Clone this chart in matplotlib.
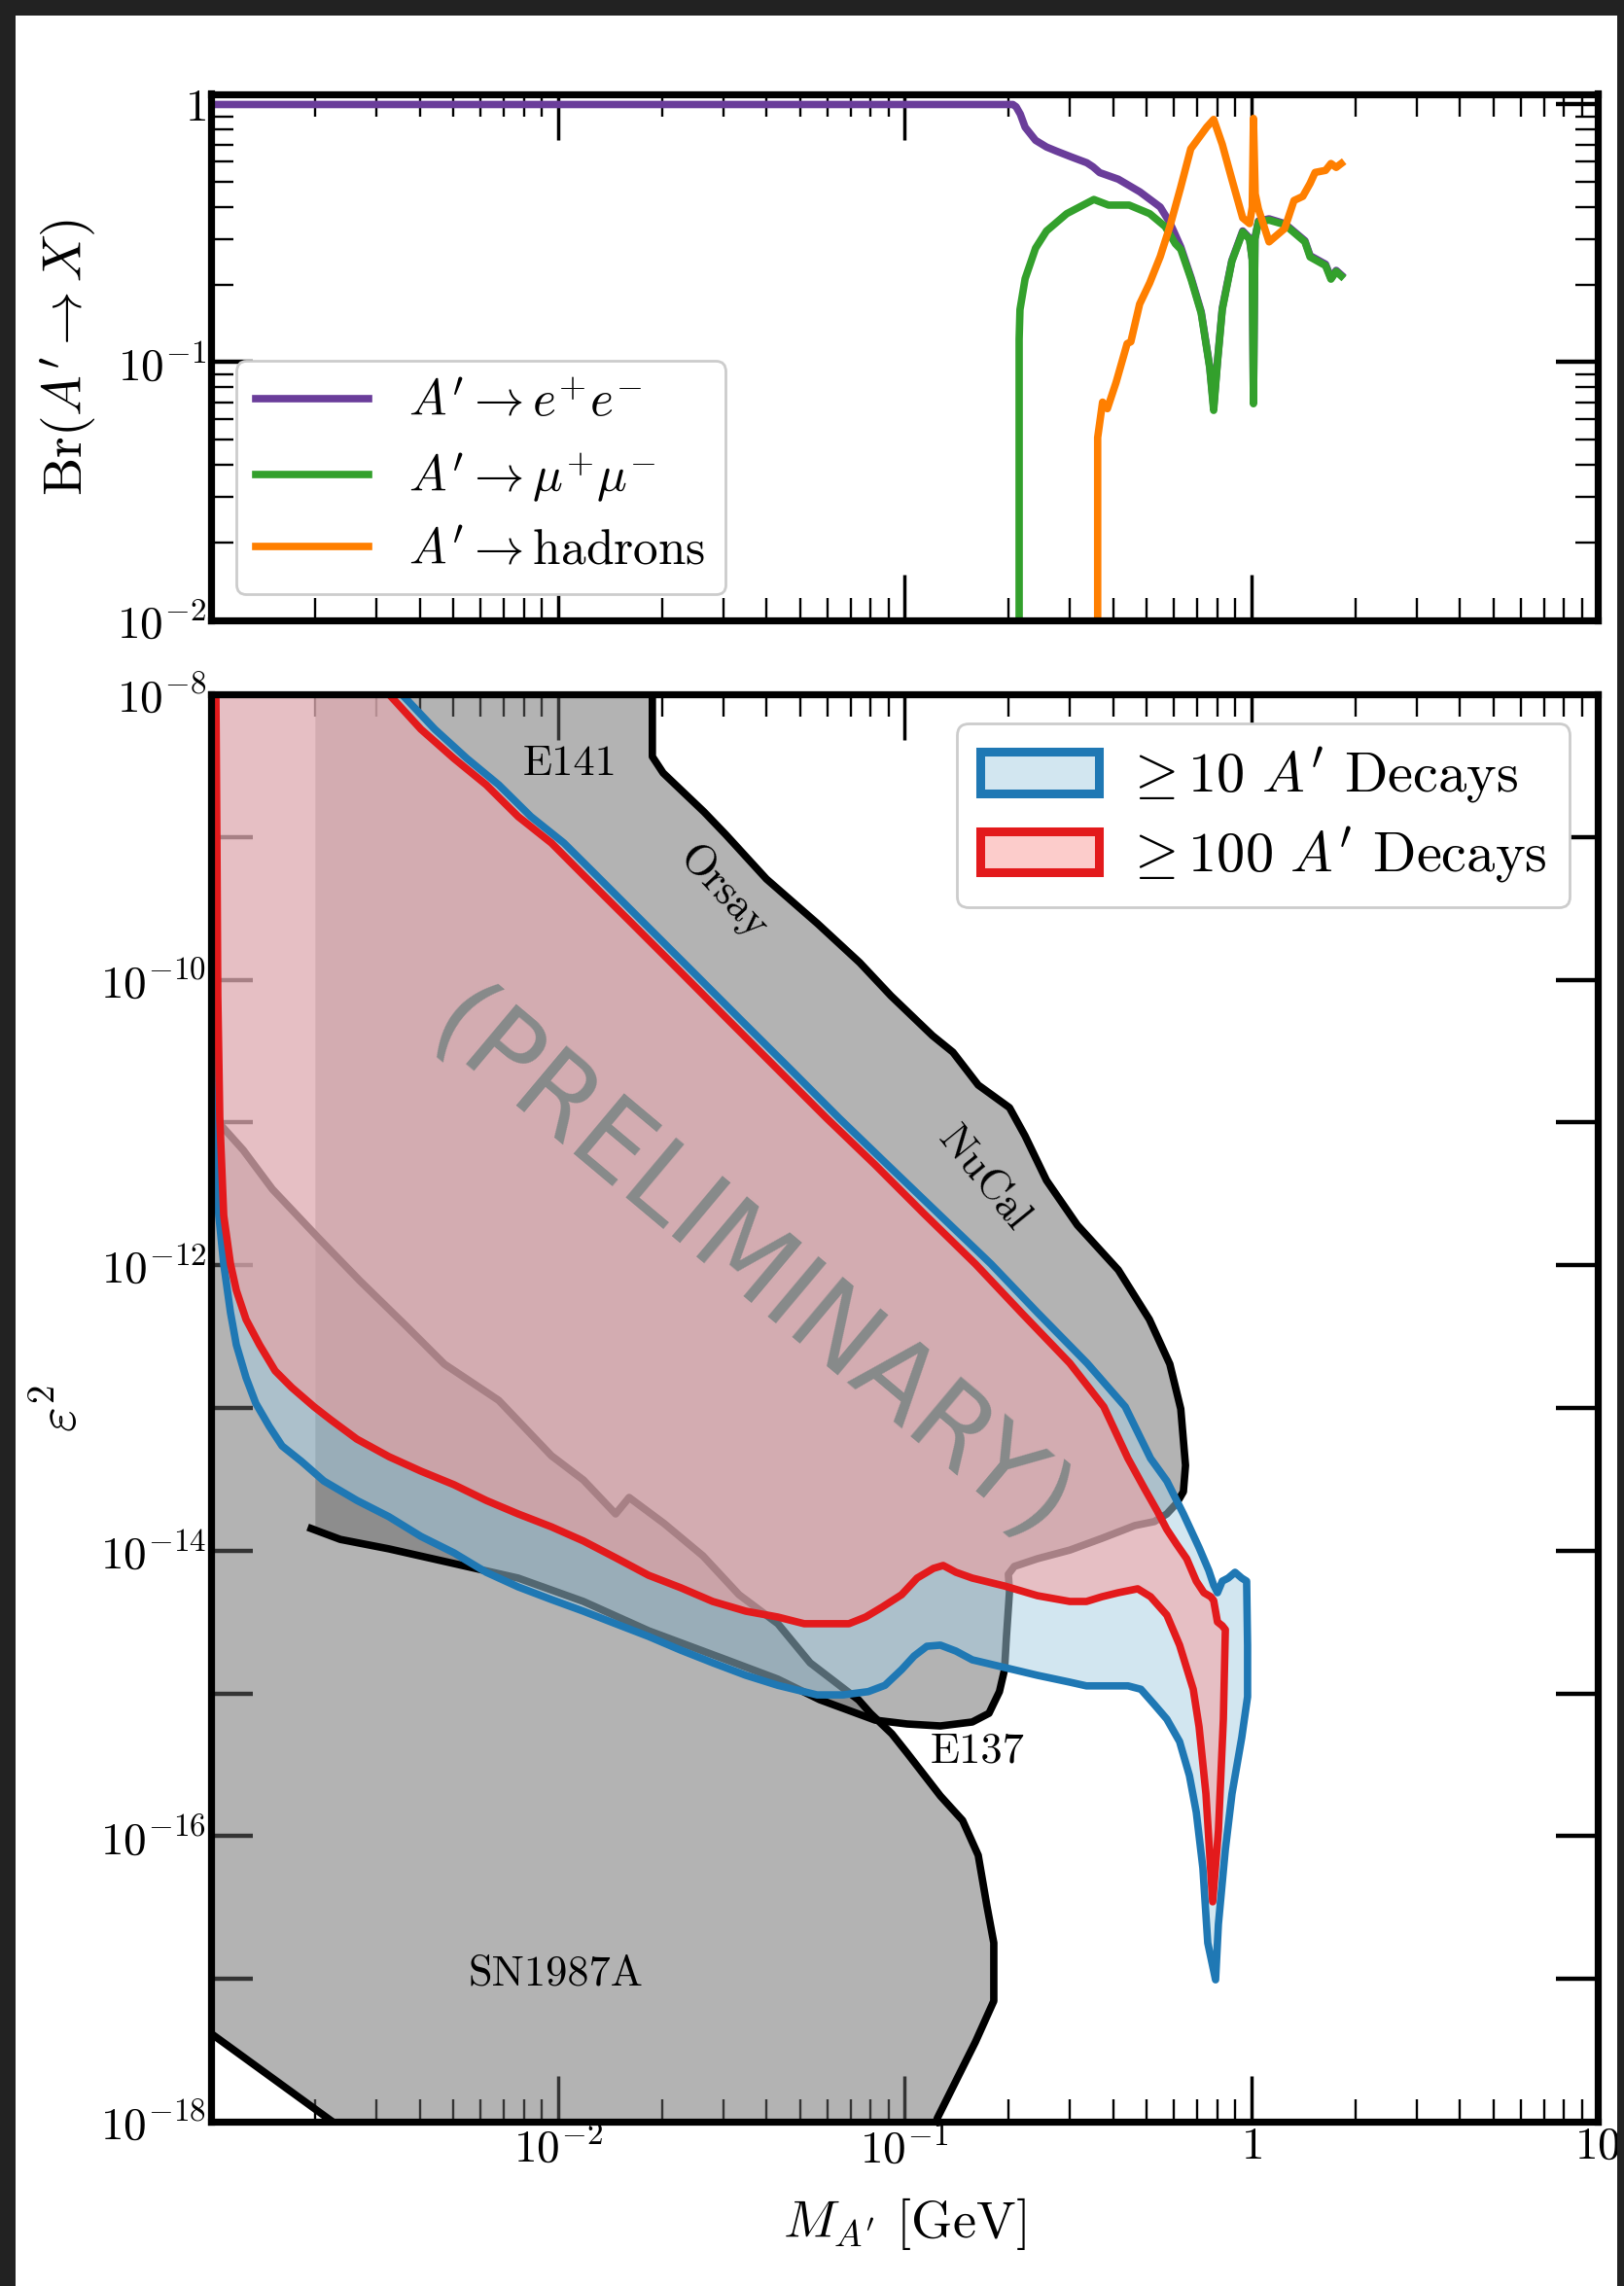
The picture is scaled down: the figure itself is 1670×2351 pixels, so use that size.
import numpy as np
import matplotlib
matplotlib.use("Agg")
import matplotlib.pyplot as plt
from matplotlib.patches import Patch, Rectangle
from matplotlib.ticker import FixedLocator, FixedFormatter, NullLocator, LogLocator

plt.rcParams.update({
    "font.family": "serif",
    "font.serif": ["cmr10"],
    "mathtext.fontset": "cm",
    "axes.formatter.use_mathtext": True,
    "axes.unicode_minus": False,
})

# ---------------- top panel data: branching ratios ----------------
mass_ee = [1.0e-3, 0.2056, 0.210, 0.216, 0.223, 0.239, 0.257, 0.274, 0.303, 0.336, 0.350, 0.366,
           0.414, 0.478, 0.547, 0.583, 0.627, 0.672, 0.718, 0.760, 0.780, 0.800, 0.826, 0.880,
           0.946, 0.990, 1.008, 1.016, 1.026, 1.050, 1.127, 1.250, 1.430, 1.480, 1.640, 1.700,
           1.760, 1.820]
br_ee = [1.0, 1.0, 0.98, 0.917, 0.816, 0.726, 0.684, 0.66, 0.626, 0.594, 0.573, 0.544,
         0.513, 0.458, 0.40, 0.348, 0.28, 0.212, 0.157, 0.096, 0.067, 0.101, 0.162, 0.248,
         0.323, 0.303, 0.25, 0.070, 0.303, 0.353, 0.36, 0.345, 0.296, 0.259, 0.24, 0.212,
         0.227, 0.218]

mass_mumu = [0.2143, 0.2143, 0.2155, 0.223, 0.239, 0.257, 0.294, 0.352, 0.388, 0.445, 0.510,
             0.565, 0.605, 0.627, 0.672, 0.718, 0.760, 0.780, 0.800, 0.826, 0.880, 0.946,
             0.990, 1.008, 1.016, 1.026, 1.050, 1.127, 1.250, 1.430, 1.480, 1.640, 1.700,
             1.760, 1.820]
br_mumu = [0.008, 0.123, 0.16, 0.211, 0.277, 0.323, 0.377, 0.428, 0.407, 0.407, 0.377,
           0.336, 0.288, 0.274, 0.209, 0.155, 0.095, 0.065, 0.10, 0.16, 0.246, 0.32,
           0.30, 0.25, 0.069, 0.30, 0.35, 0.356, 0.342, 0.293, 0.256, 0.237, 0.21,
           0.225, 0.216]

mass_had = [0.361, 0.361, 0.373, 0.385, 0.408, 0.439, 0.450, 0.477, 0.510, 0.547, 0.583,
            0.626, 0.670, 0.745, 0.780, 0.826, 0.880, 0.946, 0.990, 1.008, 1.016, 1.028,
            1.050, 1.127, 1.250, 1.330, 1.410, 1.480, 1.530, 1.640, 1.700, 1.760, 1.820]
br_had = [0.008, 0.051, 0.070, 0.066, 0.0835, 0.118, 0.12, 0.168, 0.203, 0.257, 0.336,
          0.475, 0.673, 0.817, 0.875, 0.70, 0.513, 0.363, 0.345, 0.40, 0.883, 0.45,
          0.393, 0.293, 0.33, 0.424, 0.44, 0.494, 0.545, 0.555, 0.59, 0.57, 0.59]

br_labels = [r"$A^\prime \rightarrow e^{+}e^{-}$", r"$A^\prime \rightarrow \mu^{+}\mu^{-}$",
             r"$A^\prime \rightarrow \mathrm{hadrons}$"]

# ---------------- bottom panel data: existing limits ----------------
sn_mass = [9.5e-4, 1.02e-3, 1.035e-3, 1.047e-3, 1.067e-3, 1.239e-3, 1.503e-3, 2.037e-3,
           2.685e-3, 3.64e-3, 4.71e-3, 6.76e-3, 9.59e-3, 1.186e-2, 1.469e-2, 1.607e-2,
           2.028e-2, 2.624e-2, 3.334e-2, 4.315e-2, 5.346e-2, 7.38e-2, 7.98e-2, 9.20e-2,
           0.1019, 0.1271, 0.1472, 0.1633, 0.1730, 0.1811, 0.1811, 0.1603, 0.1245, 0.119,
           2.56e-3, 9.55e-4]
sn_eps2 = [2.2e-9, 2.2e-9, 1.0e-10, 1.16e-11, 9.6e-12, 6.4e-12, 3.41e-12, 1.56e-12,
           7.8e-13, 3.79e-13, 2.03e-13, 1.13e-13, 4.63e-14, 3.13e-14, 1.81e-14, 2.36e-14,
           1.55e-14, 9.2e-15, 4.92e-15, 3.08e-15, 1.64e-15, 9.0e-16, 7.26e-16, 5.22e-16,
           3.82e-16, 1.91e-16, 1.29e-16, 7.35e-17, 3.25e-17, 1.79e-17, 7.0e-18, 3.62e-18,
           1.06e-18, 7.5e-19, 7.9e-19, 4.5e-18]

beam_mass = [2.0e-3, 1.875e-2, 1.875e-2, 2.014e-2, 2.642e-2, 3.048e-2, 4.0e-2, 5.62e-2,
             7.43e-2, 9.14e-2, 0.1205, 0.138, 0.1633, 0.201, 0.2228, 0.257, 0.3155, 0.414,
             0.509, 0.583, 0.627, 0.647, 0.638, 0.610, 0.5715, 0.526, 0.462, 0.371, 0.300,
             0.242, 0.2075, 0.1995, 0.201, 0.197, 0.1945, 0.188, 0.1754, 0.157, 0.127,
             0.1019, 8.24e-2, 5.70e-2, 4.315e-2, 3.07e-2, 1.828e-2, 1.186e-2, 7.69e-3,
             5.02e-3, 3.26e-3, 2.36e-3, 1.945e-3, 2.0e-3]
beam_eps2 = [3e-8, 3e-8, 3.66e-9, 2.81e-9, 1.50e-9, 1.045e-9, 5.08e-10, 2.47e-10, 1.32e-10,
             7.73e-11, 4.06e-11, 3.11e-11, 1.83e-11, 1.27e-11, 8.07e-12, 3.93e-12, 1.91e-12,
             9.27e-13, 4.17e-13, 2.03e-13, 9.84e-14, 3.96e-14, 2.59e-14, 2.15e-14, 1.81e-14,
             1.60e-14, 1.50e-14, 1.22e-14, 1.01e-14, 8.79e-15, 7.76e-15, 6.84e-15, 5.16e-15,
             2.51e-15, 1.47e-15, 1.03e-15, 7.26e-16, 6.31e-16, 5.92e-16, 6.11e-16, 6.50e-16,
             9.04e-16, 1.26e-15, 1.72e-15, 2.75e-15, 4.41e-15, 6.43e-15, 8.13e-15, 1.03e-14,
             1.20e-14, 1.43e-14, 1.43e-14]

# ---------------- bottom panel data: sensitivity contours ----------------
red_mass = [1.033e-3, 1.033e-3, 1.040e-3, 1.046e-3, 1.060e-3, 1.088e-3, 1.138e-3, 1.183e-3,
            1.262e-3, 1.380e-3, 1.531e-3, 1.710e-3, 1.982e-3, 2.213e-3, 2.635e-3, 3.26e-3,
            4.03e-3, 5.02e-3, 6.22e-3, 7.69e-3, 9.59e-3, 1.186e-2, 1.469e-2, 1.828e-2,
            2.265e-2, 2.80e-2, 3.49e-2, 4.315e-2, 5.14e-2, 6.92e-2, 7.73e-2, 8.61e-2,
            9.82e-2, 0.1088, 0.1213, 0.1294, 0.1409, 0.1570, 0.1945, 0.242, 0.300, 0.335,
            0.3715, 0.414, 0.471, 0.513, 0.5715, 0.622, 0.681, 0.708, 0.741, 0.775, 0.805,
            0.832, 0.843, 0.826, 0.800, 0.780, 0.765, 0.731, 0.695, 0.652, 0.610, 0.5715,
            0.536, 0.493, 0.4415, 0.376, 0.300, 0.2173, 0.1603, 0.1138, 8.24e-2, 5.97e-2,
            4.315e-2, 3.126e-2, 2.265e-2, 1.641e-2, 1.186e-2, 9.59e-3, 7.69e-3, 6.22e-3,
            5.02e-3, 4.03e-3, 3.26e-3, 2.79e-3]
red_eps2 = [1.46e-8, 1e-8, 9.08e-10, 7.73e-11, 1.07e-11, 2.23e-12, 1.02e-12, 6.67e-13,
            4.17e-13, 2.77e-13, 1.82e-13, 1.39e-13, 1.02e-13, 8.28e-14, 6.05e-14, 4.56e-14,
            3.61e-14, 2.90e-14, 2.25e-14, 1.81e-14, 1.47e-14, 1.17e-14, 8.93e-15, 6.73e-15,
            5.50e-15, 4.41e-15, 3.77e-15, 3.43e-15, 3.08e-15, 3.08e-15, 3.43e-15, 4.01e-15,
            4.92e-15, 6.43e-15, 7.52e-15, 7.88e-15, 7.06e-15, 6.43e-15, 5.66e-15, 4.84e-15,
            4.41e-15, 4.41e-15, 4.76e-15, 5.08e-15, 5.41e-15, 4.76e-15, 3.54e-15, 2.18e-15,
            1.07e-15, 5.83e-16, 1.98e-16, 3.47e-17, 1.09e-16, 6.61e-16, 2.80e-15, 2.98e-15,
            3.17e-15, 4.48e-15, 4.76e-15, 5.08e-15, 6.12e-15, 8.79e-15, 1.11e-14, 1.41e-14,
            1.90e-14, 2.72e-14, 4.43e-14, 1.02e-13, 2.06e-13, 4.66e-13, 1.02e-12, 2.30e-12,
            5.04e-12, 1.07e-11, 2.35e-11, 5.14e-11, 1.13e-10, 2.47e-10, 5.41e-10, 9.08e-10,
            1.39e-9, 2.32e-9, 3.55e-9, 5.69e-9, 1e-8, 1.46e-8]

blue_mass = [1.0e-3, 1.0e-3, 1.033e-3, 1.053e-3, 1.088e-3, 1.138e-3, 1.183e-3, 1.262e-3,
             1.346e-3, 1.472e-3, 1.603e-3, 1.824e-3, 2.115e-3, 2.635e-3, 3.26e-3, 4.03e-3,
             5.02e-3, 6.22e-3, 7.69e-3, 9.59e-3, 1.186e-2, 1.469e-2, 1.828e-2, 2.265e-2,
             2.80e-2, 3.49e-2, 4.315e-2, 5.60e-2, 6.65e-2, 7.87e-2, 8.79e-2, 9.82e-2, 0.1067,
             0.1161, 0.127, 0.1409, 0.157, 0.1945, 0.242, 0.300, 0.335, 0.4415, 0.481, 0.526,
             0.5715, 0.622, 0.664, 0.695, 0.726, 0.750, 0.790, 0.805, 0.843, 0.881, 0.940,
             0.977, 0.977, 0.971, 0.940, 0.899, 0.859, 0.826, 0.800, 0.780, 0.755, 0.708,
             0.638, 0.5715, 0.513, 0.4335, 0.3365, 0.242, 0.1778, 0.1253, 8.95e-2, 6.49e-2,
             4.70e-2, 3.40e-2, 2.46e-2, 1.782e-2, 1.291e-2, 1.042e-2, 8.37e-3, 6.76e-3,
             5.47e-3, 4.42e-3, 3.55e-3, 3.02e-3]
blue_eps2 = [1.46e-8, 2.35e-11, 4.89e-12, 2.23e-12, 1.02e-12, 4.66e-13, 2.77e-13, 1.63e-13,
             1.08e-13, 7.43e-14, 5.42e-14, 4.22e-14, 3.08e-14, 2.25e-14, 1.73e-14, 1.26e-14,
             9.66e-15, 7.06e-15, 5.58e-15, 4.55e-15, 3.77e-15, 3.08e-15, 2.51e-15, 2.01e-15,
             1.64e-15, 1.34e-15, 1.14e-15, 9.77e-16, 9.77e-16, 1.03e-15, 1.14e-15, 1.47e-15,
             1.83e-15, 2.14e-15, 2.18e-15, 1.98e-15, 1.72e-15, 1.52e-15, 1.34e-15, 1.20e-15,
             1.13e-15, 1.13e-15, 1.07e-15, 8.36e-16, 6.61e-16, 4.60e-16, 2.66e-16, 1.47e-16,
             6.00e-17, 1.79e-17, 9.86e-18, 2.42e-17, 8.07e-17, 1.98e-16, 4.91e-16, 9.48e-16,
             2.18e-15, 6.12e-15, 6.43e-15, 7.06e-15, 6.43e-15, 6.12e-15, 5.08e-15, 5.75e-15,
             7.28e-15, 1.05e-14, 1.81e-14, 3.08e-14, 4.43e-14, 1.02e-13, 2.06e-13, 4.66e-13,
             1.02e-12, 2.30e-12, 5.04e-12, 1.07e-11, 2.35e-11, 5.14e-11, 1.13e-10, 2.47e-10,
             5.41e-10, 9.08e-10, 1.39e-9, 2.32e-9, 3.55e-9, 5.69e-9, 1e-8, 1.46e-8]

decay_labels = [r"$\geq 10\ A^\prime$ Decays", r"$\geq 100\ A^\prime$ Decays"]

region_names = ["E141", "Orsay", "NuCal", "E137", "SN1987A"]
region_mass = [1.084e-2, 3.01e-2, 0.170, 0.162, 9.9e-3]
region_eps2 = [3.24e-9, 4.07e-10, 4.06e-12, 3.89e-16, 1.08e-17]
region_rot = [0, -47, -51, 0, 0]

x_ticks = [1e-3, 1e-2, 1e-1, 1, 10]
x_ticklabels = ["", r"$10^{-2}$", r"$10^{-1}$", r"$1$", r"$10$"]
br_ticks = [1e-2, 1e-1, 1]
br_ticklabels = [r"$10^{-2}$", r"$10^{-1}$", r"$1$"]
eps_exponents = list(range(-18, -7))

# ---------------- figure ----------------
W, H = 1670, 2351
fig = plt.figure(figsize=(W / 100, H / 100), dpi=100, facecolor="white")
ax1 = fig.add_axes([217 / W, 1 - 637.5 / H, 1426 / W, 541 / H])
ax2 = fig.add_axes([217 / W, 1 - 2182 / H, 1426 / W, 1468 / H])

PURPLE, GREEN, ORANGE = "#6a3d9a", "#33a02c", "#ff7f00"
BLUE, LBLUE, RED, LRED = "#1f78b4", "#a6cee3", "#e31a1c", "#fb9a99"
LW = 5.5


def style(ax):
    for s in ax.spines.values():
        s.set_linewidth(5.2)
        s.set_zorder(5)
    ax.set_xscale("log")
    ax.set_yscale("log")
    ax.set_xlim(1e-3, 10)
    ax.tick_params(which="both", direction="in", top=True, right=True)
    ax.tick_params(which="major", length=34, width=2.5, labelsize=34)
    ax.tick_params(which="minor", length=16.5, width=1.7)
    ax.tick_params(axis="y", which="major", length=31, width=3.2)
    ax.xaxis.set_major_locator(FixedLocator(x_ticks))
    ax.xaxis.set_minor_locator(LogLocator(base=10, subs=np.arange(2, 10), numticks=20))


# top panel
style(ax1)
ax1.plot(mass_ee, br_ee, color=PURPLE, lw=LW, label=br_labels[0], solid_joinstyle="round")
ax1.plot(mass_mumu, br_mumu, color=GREEN, lw=LW, label=br_labels[1], solid_joinstyle="round")
ax1.plot(mass_had, br_had, color=ORANGE, lw=LW, label=br_labels[2], solid_joinstyle="round")
ax1.set_ylim(1e-2, 1.1)
ax1.yaxis.set_major_locator(FixedLocator(br_ticks))
ax1.yaxis.set_major_formatter(FixedFormatter(br_ticklabels))
ax1.yaxis.set_minor_locator(LogLocator(base=10, subs=np.arange(2, 10), numticks=20))
ax1.tick_params(axis="x", labelbottom=False)
ax1.set_ylabel(r"$\mathrm{Br}(A^\prime \rightarrow X)$", fontsize=40)
ax1.yaxis.set_label_coords(-0.0813, 0.5)
leg1 = ax1.legend(loc="lower left", bbox_to_anchor=(0.018, 0.049), borderaxespad=0,
                  fontsize=37, handlelength=2.25, handletextpad=0.8, labelspacing=0.5,
                  fancybox=True, framealpha=1.0, edgecolor="#cccccc")
leg1.get_frame().set_linewidth(2)

# bottom panel
style(ax2)
ax2.set_axisbelow(True)
ax2.set_ylim(1e-18, 1e-8)
ax2.yaxis.set_major_locator(FixedLocator([10.0 ** k for k in eps_exponents]))
ax2.yaxis.set_major_formatter(FixedFormatter(
    [r"$10^{%d}$" % k if k % 2 == 0 else "" for k in eps_exponents]))
ax2.yaxis.set_minor_locator(NullLocator())
ax2.xaxis.set_major_formatter(FixedFormatter(x_ticklabels))

GRAY = "#696969"
ax2.fill(sn_mass, sn_eps2, facecolor=GRAY, alpha=0.5, edgecolor="none", zorder=1.0)
ax2.fill(beam_mass, beam_eps2, facecolor=GRAY, alpha=0.5, edgecolor="none", zorder=1.0)
ax2.plot(sn_mass[1:34], sn_eps2[1:34], color="black", lw=LW, zorder=1.1,
         solid_joinstyle="round")
ax2.plot(sn_mass[34:36], sn_eps2[34:36], color="black", lw=LW, zorder=1.1)
ax2.plot(beam_mass[1:51], beam_eps2[1:51], color="black", lw=LW, zorder=1.1,
         solid_joinstyle="round")

ax2.fill(blue_mass, blue_eps2, facecolor=LBLUE, alpha=0.5, edgecolor="none", zorder=1.2)
ax2.plot(blue_mass + blue_mass[:1], blue_eps2 + blue_eps2[:1], color=BLUE, lw=LW,
         zorder=1.3, solid_joinstyle="round")
ax2.fill(red_mass, red_eps2, facecolor=LRED, alpha=0.5, edgecolor="none", zorder=1.4)
ax2.plot(red_mass + red_mass[:1], red_eps2 + red_eps2[:1], color=RED, lw=LW,
         zorder=1.5, solid_joinstyle="round")

for name, m, e, r in zip(region_names, region_mass, region_eps2, region_rot):
    ax2.text(m, e, name, fontsize=32, ha="center", va="center", rotation=r,
             rotation_mode="anchor", zorder=3)

ax2.text(3.56e-2, 9.4e-13, "(PRELIMINARY)", fontsize=80, family="DejaVu Sans",
         color="#878a8a", ha="center", va="center", rotation=-40,
         rotation_mode="anchor", zorder=3)

ax2.set_ylabel(r"$\varepsilon^2$", fontsize=40)
ax2.yaxis.set_label_coords(-0.089, 0.5)
ax2.set_xlabel(r"$M_{A^\prime}$ [GeV]", fontsize=39)
ax2.xaxis.set_label_coords(0.5, -0.052)

handles = [Patch(facecolor=(0.651, 0.808, 0.890, 0.5), edgecolor=BLUE, linewidth=6.5),
           Patch(facecolor=(0.984, 0.604, 0.600, 0.5), edgecolor=RED, linewidth=6.5)]
leg2 = ax2.legend(handles, decay_labels, loc="upper right", bbox_to_anchor=(0.980, 0.9796),
                  borderaxespad=0, fontsize=42, handlelength=2.1, handleheight=0.75,
                  handletextpad=0.45, labelspacing=0.35, fancybox=True, framealpha=1.0,
                  edgecolor="#cccccc")
leg2.get_frame().set_linewidth(2)

# dark screenshot border
DARK = "#222222"
for (x0, y0, w, h) in [(0, 0, 16 / W, 1), (1663 / W, 0, 7 / W, 1), (0, 1 - 16 / H, 1, 16 / H)]:
    fig.add_artist(Rectangle((x0, y0), w, h, transform=fig.transFigure, facecolor=DARK,
                             edgecolor="none", zorder=100))

fig.savefig("out.png", dpi=100, facecolor="white")
